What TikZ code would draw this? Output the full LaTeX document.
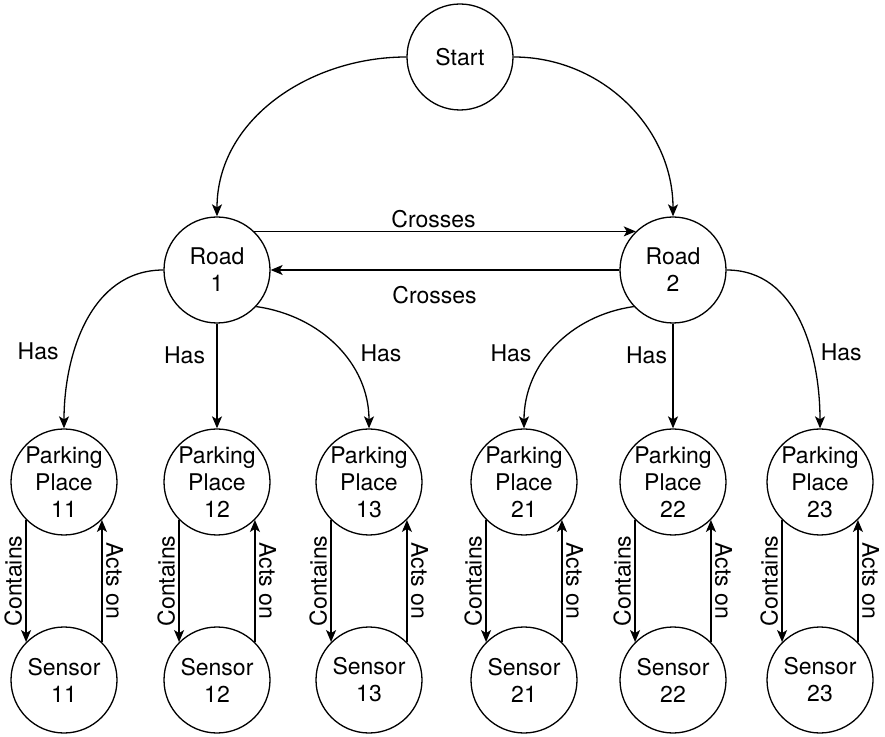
\documentclass[tikz,border=0pt]{standalone}
\usepackage{fontspec}
\setmainfont{TeX Gyre Heros}
\usetikzlibrary{arrows.meta}
\usetikzlibrary{automata}
\usetikzlibrary{positioning}

\begin{document}
\begin{tikzpicture}[x=1pt, y=1pt, on grid, line width=1.3pt,
    >={Stealth[length=12pt, width=10pt, inset=3pt]},
    font=\fontsize{23}{27}\selectfont,
    every state/.style={minimum size=106pt, inner sep=0pt, align=center, line width=1.3pt}]
  \useasboundingbox (0,0) rectangle (885,736);

  % Top: start and the two roads
  \node[state] (start) at (460,679) {Start};
  \node[state] (r1) at (217,466) {Road\\1};
  \node[state, right=456pt of r1] (r2) {Road\\2};

  % Parking places of each road
  \node[state, below=212pt of r1] (p12) {Parking\\Place\\12};
  \node[state, left=153pt of p12] (p11) {Parking\\Place\\11};
  \node[state, right=152pt of p12] (p13) {Parking\\Place\\13};
  \node[state, below=212pt of r2] (p22) {Parking\\Place\\22};
  \node[state, left=149pt of p22] (p21) {Parking\\Place\\21};
  \node[state, right=147pt of p22] (p23) {Parking\\Place\\23};

  % Sensors
  \node[state, below=198pt of p11] (s11) {Sensor\\11};
  \node[state, below=198pt of p12] (s12) {Sensor\\12};
  \node[state, below=198pt of p13] (s13) {Sensor\\13};
  \node[state, below=198pt of p21] (s21) {Sensor\\21};
  \node[state, below=198pt of p22] (s22) {Sensor\\22};
  \node[state, below=198pt of p23] (s23) {Sensor\\23};

  \path[->]
   (start) edge [out=180, in=90] (r1)
   (start) edge [out=0, in=90] (r2)
   (r1.46) edge node[above, pos=0.47] {Crosses} (r2.134)
   (r2) edge node[below=12pt, pos=0.53] {Crosses} (r1);

  \path[->]
   (r1) edge [out=180, in=90] node[pos=0.65, left=12pt] {Has} (p11)
   (r1) edge node[pos=0.3, left=8pt] {Has} (p12)
   (r1.-43) edge [out=-8, in=90] node[pos=0.55, right=14pt] {Has} (p13)
   (r2.-137) edge [out=188, in=90] node[pos=0.55, left=14pt] {Has} (p21)
   (r2) edge node[pos=0.3, left=2pt] {Has} (p22)
   (r2) edge [out=0, in=90] node[pos=0.65, right=6pt] {Has} (p23);

  \path[->]
   (p11.south west) edge node[rotate=90, anchor=south] {Contains} (s11.north west)
   (s11.north east) edge node[rotate=-90, anchor=south] {Acts on} (p11.south east)
   (p12.south west) edge node[rotate=90, anchor=south] {Contains} (s12.north west)
   (s12.north east) edge node[rotate=-90, anchor=south] {Acts on} (p12.south east)
   (p13.south west) edge node[rotate=90, anchor=south] {Contains} (s13.north west)
   (s13.north east) edge node[rotate=-90, anchor=south] {Acts on} (p13.south east)
   (p21.south west) edge node[rotate=90, anchor=south] {Contains} (s21.north west)
   (s21.north east) edge node[rotate=-90, anchor=south] {Acts on} (p21.south east)
   (p22.south west) edge node[rotate=90, anchor=south] {Contains} (s22.north west)
   (s22.north east) edge node[rotate=-90, anchor=south] {Acts on} (p22.south east)
   (p23.south west) edge node[rotate=90, anchor=south] {Contains} (s23.north west)
   (s23.north east) edge node[rotate=-90, anchor=south] {Acts on} (p23.south east);
\end{tikzpicture}
\end{document}
